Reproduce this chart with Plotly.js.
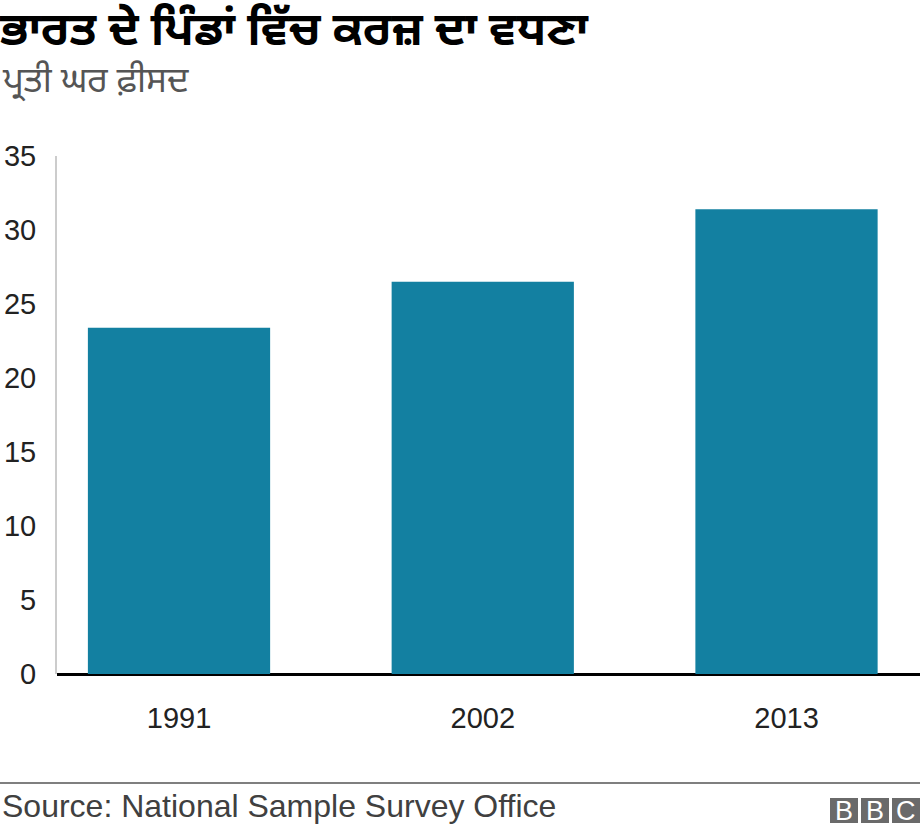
<!DOCTYPE html>
<html>
<head>
<meta charset="utf-8">
<script src="https://cdn.plot.ly/plotly-3.0.1.min.js"></script>
<style>html,body{margin:0;padding:0;background:#fff;}#chart{width:920px;height:834px;}</style>
</head>
<body>
<div id="chart"></div>
<script>
const years = ['1991', '2002', '2013'];
const values = [23.4, 26.5, 31.4];
const yTicks = [0, 5, 10, 15, 20, 25, 30, 35];

const titleText = 'ਭਾਰਤ ਦੇ ਪਿੰਡਾਂ ਵਿੱਚ ਕਰਜ਼ ਦਾ ਵਧਣਾ';
const subtitleText = 'ਪ੍ਰਤੀ ਘਰ ਫ਼ੀਸਦ';
const sourceText = 'Source: National Sample Survey Office';

const W = 920, H = 834;
const L = 57, R = 0, T = 156, B = 160;
const pw = W - L - R, ph = H - T - B;
const px = x => (x - L) / pw;
const py = y => (H - B - y) / ph;

const font = 'Liberation Sans, Arial, Helvetica, sans-serif';
const gFont = 'Noto Sans Gurmukhi, Lohit Gurmukhi, Noto Sans, sans-serif';

const shapes = [
  {type: 'line', xref: 'paper', yref: 'paper', x0: px(0), x1: px(920), y0: py(783), y1: py(783),
   line: {color: '#7f7f7f', width: 2}}
];
const annotations = [
  {xref: 'paper', yref: 'paper', x: px(0), y: py(83), xanchor: 'left', yanchor: 'middle',
   text: subtitleText, showarrow: false, font: {family: gFont, size: 35, color: '#555555'}},
  {xref: 'paper', yref: 'paper', x: px(0), y: py(806), xanchor: 'left', yanchor: 'middle',
   text: sourceText, showarrow: false, font: {family: font, size: 32, color: '#404040'}}
];
const bbcX = [830, 861, 892];
const bbc = ['B', 'B', 'C'];
bbcX.forEach((x, i) => {
  shapes.push({type: 'rect', xref: 'paper', yref: 'paper', x0: px(x), x1: px(x + 28), y0: py(798), y1: py(823),
    fillcolor: '#6a6a6a', line: {width: 0}});
  annotations.push({xref: 'paper', yref: 'paper', x: px(x + 14), y: py(810.5), xanchor: 'center', yanchor: 'middle',
    text: bbc[i], showarrow: false, font: {family: font, size: 27, color: '#ffffff'}});
});

const data = [{
  type: 'bar',
  x: years,
  y: values,
  marker: {color: '#1380A1'},
  width: 0.6,
  hoverinfo: 'none'
}];

const layout = {
  width: W, height: H,
  margin: {l: L, r: R, t: T, b: B, pad: 0},
  paper_bgcolor: '#ffffff', plot_bgcolor: '#ffffff',
  showlegend: false,
  title: {text: '<b>' + titleText + '</b>', x: 0, xanchor: 'left', xref: 'container',
    y: 1 - 29 / H, yanchor: 'middle', yref: 'container',
    font: {family: gFont, size: 46, color: '#000000'}},
  xaxis: {
    type: 'category',
    range: [(57 - 179) / 303.75, (920 - 179) / 303.75],
    showgrid: false, zeroline: false, showline: false,
    ticks: '', ticklabelstandoff: 24,
    tickfont: {family: font, size: 29, color: '#222222'},
    fixedrange: true
  },
  yaxis: {
    range: [0, 35],
    tickvals: yTicks,
    ticktext: yTicks.map(String),
    showgrid: false,
    zeroline: true, zerolinecolor: '#000000', zerolinewidth: 3,
    showline: true, linecolor: '#cccccc', linewidth: 2,
    ticks: '', ticklabelstandoff: 13,
    tickfont: {family: font, size: 29, color: '#222222'},
    fixedrange: true
  },
  shapes: shapes,
  annotations: annotations
};

Plotly.newPlot('chart', data, layout, {displayModeBar: false, staticPlot: true});
</script>
</body>
</html>
